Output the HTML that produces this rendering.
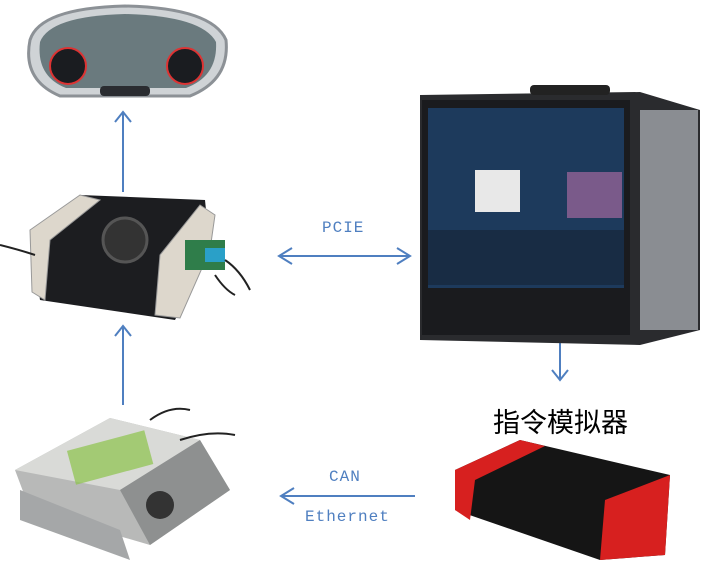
<!DOCTYPE html>
<html><head><meta charset="utf-8"><style>
body{margin:0;width:711px;height:581px;background:#fff;position:relative;overflow:hidden;font-family:"Liberation Sans",sans-serif}
.a{position:absolute}
.lbl{position:absolute;color:#4f7fc0;font-family:"Liberation Mono",monospace;font-size:16px;letter-spacing:1px}
</style></head><body>
<svg class="a" style="left:0;top:0" width="711" height="581">
<g stroke="#4f7fc0" stroke-width="2" fill="none">
<line x1="123" y1="192" x2="123" y2="112"/><polyline points="115,122 123,112 131,122"/>
<line x1="123" y1="405" x2="123" y2="326"/><polyline points="115,336 123,326 131,336"/>
<line x1="279" y1="256" x2="410" y2="256"/><polyline points="292,248 279,256 292,264"/><polyline points="397,248 410,256 397,264"/>
<line x1="560" y1="338" x2="560" y2="380"/><polyline points="552,370 560,380 568,370"/>
<line x1="415" y1="496" x2="281" y2="496"/><polyline points="294,488 281,496 294,504"/>
</g>
<!-- dashboard -->
<path d="M30,40 Q40,8 125,6 Q212,8 226,40 Q230,80 190,96 L60,96 Q22,80 30,40Z" fill="#cfd3d6" stroke="#8c9196" stroke-width="3"/>
<path d="M40,42 Q50,16 125,14 Q202,16 216,42 Q218,76 186,88 L66,88 Q36,76 40,42Z" fill="#6a7a7e"/>
<circle cx="68" cy="66" r="18" fill="#1a1c20" stroke="#d33" stroke-width="2"/>
<circle cx="185" cy="66" r="18" fill="#1a1c20" stroke="#d33" stroke-width="2"/>
<rect x="100" y="86" width="50" height="10" rx="4" fill="#2a2c30"/>
<!-- fan box -->
<path d="M30,230 L80,195 L205,200 L210,250 L175,320 L40,300 Z" fill="#1c1d20"/>
<path d="M30,230 L80,195 L100,200 L50,240 L45,300 L32,292Z" fill="#ddd7cc" stroke="#999"/>
<path d="M155,315 L160,255 L200,205 L215,215 L210,250 L180,318Z" fill="#ddd7cc" stroke="#999"/>
<circle cx="125" cy="240" r="22" fill="#333" stroke="#555" stroke-width="3"/>
<rect x="185" y="240" width="40" height="30" fill="#2f7d4a"/>
<rect x="205" y="248" width="20" height="14" fill="#2aa0c8"/>
<path d="M0,245 Q20,250 35,255 M225,260 Q240,270 250,290 M215,275 Q225,290 235,295" stroke="#222" stroke-width="2" fill="none"/>
<!-- laptop case -->
<path d="M420,95 L640,92 L700,110 L700,330 L640,345 L420,340 Z" fill="#2a2b2e"/>
<rect x="422" y="100" width="208" height="235" fill="#1a1b1e"/>
<rect x="428" y="108" width="196" height="180" fill="#1d3a5c"/>
<rect x="475" y="170" width="45" height="42" fill="#e8e8e8"/>
<rect x="567" y="172" width="55" height="46" fill="#7a5a8a"/>
<rect x="428" y="230" width="196" height="55" fill="#182c44"/>
<rect x="530" y="85" width="80" height="10" rx="4" fill="#222"/>
<rect x="640" y="110" width="58" height="220" fill="#8a8d92"/>
<!-- red box -->
<path d="M455,470 L520,440 L670,475 L665,555 L600,560 L455,510 Z" fill="#151515"/>
<path d="M455,470 L520,440 L545,446 L475,480 L470,520 L455,510Z" fill="#d7201f"/>
<path d="M600,560 L605,500 L670,475 L665,555Z" fill="#d7201f"/>
<!-- bottom-left device -->
<path d="M15,470 L110,418 L200,440 L230,490 L150,545 L30,510 Z" fill="#b8b9b8"/>
<path d="M15,470 L110,418 L200,440 L120,490 Z" fill="#d9dad7"/>
<rect x="70" y="440" width="80" height="35" fill="#8bc34a" opacity=".7" transform="rotate(-15 110 457)"/>
<path d="M120,490 L200,440 L230,490 L150,545Z" fill="#8e9090"/>
<circle cx="160" cy="505" r="14" fill="#333"/>
<path d="M20,490 L120,530 L130,560 L20,520Z" fill="#a5a7a8"/>
<path d="M150,420 Q170,405 190,410 M180,440 Q210,430 235,435" stroke="#222" stroke-width="2" fill="none"/>
</svg>
<div class="lbl" style="left:322px;top:219px">PCIE</div>
<div class="lbl" style="left:329px;top:468px">CAN</div>
<div class="lbl" style="left:305px;top:508px">Ethernet</div>
<div class="a" style="left:493px;top:401px;font-size:27px;font-family:'Liberation Sans','Noto Sans CJK SC',sans-serif;color:#000">指令模拟器</div>
</body></html>
